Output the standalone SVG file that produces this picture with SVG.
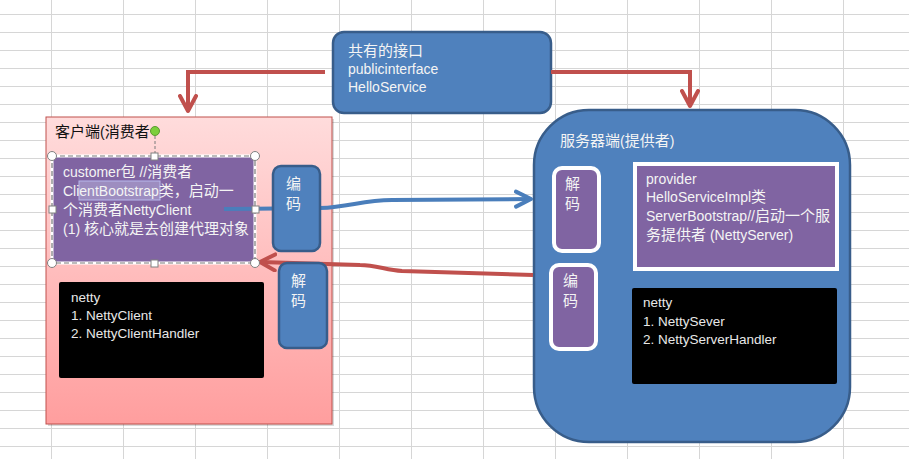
<svg xmlns="http://www.w3.org/2000/svg" width="909" height="459" viewBox="0 0 909 459">
<style>
text{font-family:"Liberation Sans","Noto Sans CJK SC",sans-serif;font-size:14px;fill:#f4f4f4}
.c{font-family:"Noto Sans CJK SC",sans-serif;font-size:15px}
.n{font-size:13.5px;fill:#e8e8e8}
.dark{fill:#111}
.grid line{stroke:#d6d6d6;stroke-width:1}
.blue{fill:#4f81bd;stroke:#385d8a;stroke-width:2.5}
.purp{fill:#8064a2;stroke:#ffffff;stroke-width:4}
.blk{fill:#000}
.conR{fill:none;stroke:#c0504d;stroke-width:4}
.conB{fill:none;stroke:#4a7ebb;stroke-width:4}
.hd{fill:#fff;stroke:#808080;stroke-width:1}
</style>
<defs>
<linearGradient id="pink" x1="0" y1="0" x2="0" y2="1">
<stop offset="0" stop-color="#ffdcdc"/>
<stop offset="1" stop-color="#ff9e9e"/>
</linearGradient>
<marker id="arrR" viewBox="0 0 20 20" refX="17" refY="10" markerWidth="20" markerHeight="20" markerUnits="userSpaceOnUse" orient="auto">
<path d="M2,2 L17,10 L2,18" fill="none" stroke="#c0504d" stroke-width="4" stroke-linejoin="round" stroke-linecap="round"/>
</marker>
<marker id="arrB" viewBox="0 0 20 20" refX="17" refY="10" markerWidth="20" markerHeight="20" markerUnits="userSpaceOnUse" orient="auto">
<path d="M2,2.5 L17,10 L2,17.5" fill="none" stroke="#4a7ebb" stroke-width="4" stroke-linejoin="round" stroke-linecap="round"/>
</marker>
</defs>
<rect x="0" y="0" width="909" height="459" fill="#ffffff"/>
<g class="grid">
<line x1="51.5" y1="0" x2="51.5" y2="459"/><line x1="123.5" y1="0" x2="123.5" y2="459"/><line x1="195.5" y1="0" x2="195.5" y2="459"/><line x1="267.5" y1="0" x2="267.5" y2="459"/><line x1="339.5" y1="0" x2="339.5" y2="459"/><line x1="411.5" y1="0" x2="411.5" y2="459"/><line x1="483.5" y1="0" x2="483.5" y2="459"/><line x1="555.5" y1="0" x2="555.5" y2="459"/><line x1="627.5" y1="0" x2="627.5" y2="459"/><line x1="699.5" y1="0" x2="699.5" y2="459"/><line x1="771.5" y1="0" x2="771.5" y2="459"/><line x1="843.5" y1="0" x2="843.5" y2="459"/>
<line x1="0" y1="14.5" x2="909" y2="14.5"/><line x1="0" y1="32.5" x2="909" y2="32.5"/><line x1="0" y1="50.5" x2="909" y2="50.5"/><line x1="0" y1="68.5" x2="909" y2="68.5"/><line x1="0" y1="86.5" x2="909" y2="86.5"/><line x1="0" y1="104.5" x2="909" y2="104.5"/><line x1="0" y1="122.5" x2="909" y2="122.5"/><line x1="0" y1="140.5" x2="909" y2="140.5"/><line x1="0" y1="158.5" x2="909" y2="158.5"/><line x1="0" y1="176.5" x2="909" y2="176.5"/><line x1="0" y1="194.5" x2="909" y2="194.5"/><line x1="0" y1="212.5" x2="909" y2="212.5"/><line x1="0" y1="230.5" x2="909" y2="230.5"/><line x1="0" y1="248.5" x2="909" y2="248.5"/><line x1="0" y1="266.5" x2="909" y2="266.5"/><line x1="0" y1="284.5" x2="909" y2="284.5"/><line x1="0" y1="302.5" x2="909" y2="302.5"/><line x1="0" y1="320.5" x2="909" y2="320.5"/><line x1="0" y1="338.5" x2="909" y2="338.5"/><line x1="0" y1="356.5" x2="909" y2="356.5"/><line x1="0" y1="374.5" x2="909" y2="374.5"/><line x1="0" y1="392.5" x2="909" y2="392.5"/><line x1="0" y1="410.5" x2="909" y2="410.5"/><line x1="0" y1="428.5" x2="909" y2="428.5"/><line x1="0" y1="446.5" x2="909" y2="446.5"/>
</g>

<g id="client">
<rect x="48" y="119" width="286" height="307" fill="#000" opacity="0.15"/>
<rect x="46" y="117" width="286" height="307" fill="url(#pink)" stroke="#c0504d" stroke-width="1"/>
<text x="55" y="137" class="dark"><tspan class="c">客户端</tspan>(<tspan class="c">消费者</tspan></text>
</g>

<g id="server">
<rect x="534" y="110" width="316" height="332" rx="55" class="blue"/>
<text x="560" y="146"><tspan class="c">服务器端</tspan>(<tspan class="c">提供者</tspan>)</text>
</g>

<g id="interface">
<rect x="333" y="32" width="218" height="81" rx="11" class="blue"/>
<text x="348" y="56" class="c">共有的接口</text>
<text x="348" y="74">publicinterface</text>
<text x="348" y="92">HelloService</text>
</g>

<g id="customer">
<rect x="52" y="156" width="203" height="107" fill="#8064a2"/>
<rect x="79" y="181" width="81" height="19" fill="#a497c8" fill-opacity="0.8" stroke="#b8b8ec" stroke-width="1"/>
<text x="63" y="177">customer<tspan class="c">包</tspan> //<tspan class="c">消费者</tspan></text>
<text x="63" y="196">ClientBootstrap<tspan class="c">类，启动一</tspan></text>
<text x="63" y="215"><tspan class="c">个消费者</tspan>NettyClient</text>
<text x="63" y="234">(1) <tspan class="c">核心就是去创建代理对象</tspan></text>
</g>

<g id="connectors">
<path class="conR" d="M325,72 H188 V111" marker-end="url(#arrR)"/>
<path class="conR" d="M551,72 H690 V106" marker-end="url(#arrR)"/>
<path class="conB" d="M224,209 L320,208 C350,207 362,200 392,200 L531,199" marker-end="url(#arrB)"/>
<path class="conR" d="M533,275 L402,271 C386,270 376,265 360,265 L260,262" marker-end="url(#arrR)"/>
</g>

<g id="selection">
<rect x="52" y="156" width="203" height="107" fill="none" stroke="#ffffff" stroke-width="3"/>
<rect x="52" y="156" width="203" height="107" fill="none" stroke="#7a7a7a" stroke-width="1.2" stroke-dasharray="5,3"/>
<line x1="155" y1="136" x2="155" y2="153" stroke="#7a7a7a" stroke-width="1" stroke-dasharray="3,2"/>
<circle cx="155" cy="131" r="4.5" fill="#7ccf3c" stroke="#5a9a30" stroke-width="1"/>
<circle cx="52" cy="156" r="4.5" class="hd"/><circle cx="255" cy="156" r="4.5" class="hd"/>
<circle cx="52" cy="263" r="4.5" class="hd"/><circle cx="255" cy="263" r="4.5" class="hd"/>
<rect x="151" y="153" width="7" height="7" class="hd"/><rect x="151" y="260" width="7" height="7" class="hd"/>
<rect x="49" y="206" width="7" height="7" class="hd"/><rect x="252" y="206" width="7" height="7" class="hd"/>
</g>

<g id="client-encode">
<rect x="273" y="166" width="47" height="85" rx="8" class="blue"/>
<text x="286" y="189" class="c">编</text>
<text x="286" y="209" class="c">码</text>
</g>

<g id="client-decode">
<rect x="279" y="263" width="48" height="85" rx="8" class="blue"/>
<text x="291" y="286" class="c">解</text>
<text x="291" y="306" class="c">码</text>
</g>

<g id="client-netty">
<rect x="59" y="282" width="205" height="96" rx="2" class="blk"/>
<text x="71" y="302" class="n">netty</text>
<text x="71" y="320" class="n">1. NettyClient</text>
<text x="71" y="338" class="n">2. NettyClientHandler</text>
</g>

<g id="server-decode">
<rect x="554" y="168" width="45" height="83" rx="8" class="purp"/>
<text x="565" y="189" class="c">解</text>
<text x="565" y="209" class="c">码</text>
</g>

<g id="server-encode">
<rect x="551" y="265" width="45" height="84" rx="8" class="purp"/>
<text x="563" y="286" class="c">编</text>
<text x="563" y="306" class="c">码</text>
</g>

<g id="provider">
<rect x="635" y="164" width="202" height="105" class="purp"/>
<text x="646" y="184">provider</text>
<text x="646" y="202">HelloServiceImpl<tspan class="c">类</tspan></text>
<text x="646" y="221">ServerBootstrap//<tspan class="c">启动一个服</tspan></text>
<text x="646" y="240"><tspan class="c">务提供者</tspan> (NettyServer)</text>
</g>

<g id="server-netty">
<rect x="632" y="288" width="205" height="96" rx="2" class="blk"/>
<text x="643" y="307" class="n">netty</text>
<text x="643" y="326" class="n">1. NettySever</text>
<text x="643" y="344" class="n">2. NettyServerHandler</text>
</g>
</svg>
